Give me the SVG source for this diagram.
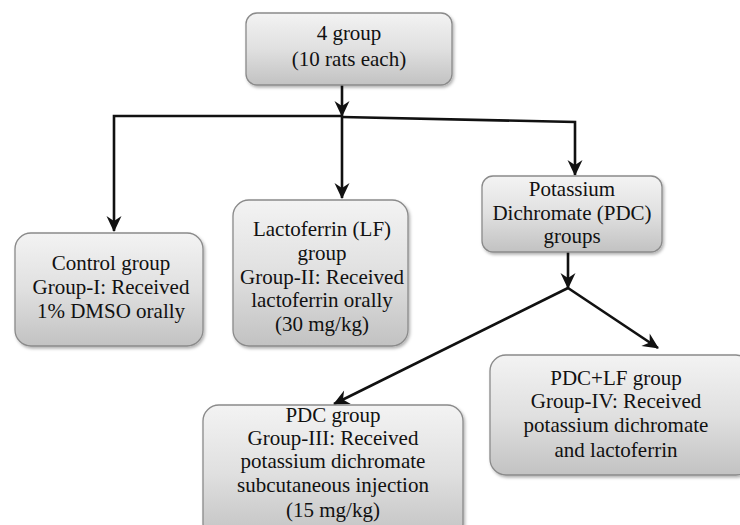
<svg xmlns="http://www.w3.org/2000/svg" width="740" height="525" viewBox="0 0 740 525">
  <defs>
    <linearGradient id="boxFill" x1="0" y1="0" x2="0" y2="1">
      <stop offset="0" stop-color="#f3f3f3"/>
      <stop offset="0.5" stop-color="#e0e0e0"/>
      <stop offset="1" stop-color="#c2c2c2"/>
    </linearGradient>
    <filter id="shadow" x="-10%" y="-10%" width="125%" height="130%">
      <feDropShadow dx="1.5" dy="2" stdDeviation="1.5" flood-color="#000" flood-opacity="0.3"/>
    </filter>
    <marker id="arrow" markerUnits="userSpaceOnUse" markerWidth="18" markerHeight="18" viewBox="0 0 18 18" refX="16" refY="9" orient="auto">
      <path d="M1,1.5 L17,9 L1,16.5 L6,9 z" fill="#111"/>
    </marker>
    <style>
      .box { fill: url(#boxFill); stroke: #8a8a8a; stroke-width: 1.3; filter: url(#shadow); }
      .lbl { font-family: 'Liberation Serif', 'Times New Roman', serif; font-size: 21px; fill: #111; text-anchor: middle; }
      .conn { fill: none; stroke: #111; stroke-width: 2.6; }
    </style>
  </defs>

  <g id="connectors">
    <path class="conn" d="M342,85 V116" marker-end="url(#arrow)"/>
    <path class="conn" d="M342,116 V198" marker-end="url(#arrow)"/>
    <path class="conn" d="M342,116 L114,116 V231" marker-end="url(#arrow)"/>
    <path class="conn" d="M342,117 L575,122 V175" marker-end="url(#arrow)"/>
    <path class="conn" d="M568,252 V288" marker-end="url(#arrow)"/>
    <path class="conn" d="M568,288 L334,404" marker-end="url(#arrow)"/>
    <path class="conn" d="M568,288 L658,348" marker-end="url(#arrow)"/>
  </g>

  <g id="node-top">
    <rect class="box" x="246" y="13" width="206" height="72" rx="11"/>
    <text class="lbl" x="349" y="40">4 group</text>
    <text class="lbl" x="349" y="66">(10 rats each)</text>
  </g>

  <g id="node-control">
    <rect class="box" x="15" y="233" width="188" height="113" rx="16"/>
    <text class="lbl" x="111" y="270">Control group</text>
    <text class="lbl" x="111" y="294">Group-I: Received</text>
    <text class="lbl" x="111" y="318">1% DMSO orally</text>
  </g>

  <g id="node-lactoferrin">
    <rect class="box" x="233" y="200" width="175" height="146" rx="16"/>
    <text class="lbl" x="322" y="236">Lactoferrin (LF)</text>
    <text class="lbl" x="322" y="260">group</text>
    <text class="lbl" x="322" y="284">Group-II: Received</text>
    <text class="lbl" x="322" y="307">lactoferrin orally</text>
    <text class="lbl" x="322" y="331">(30 mg/kg)</text>
  </g>

  <g id="node-pdc-groups">
    <rect class="box" x="482" y="176" width="180" height="76" rx="11"/>
    <text class="lbl" x="572" y="196">Potassium</text>
    <text class="lbl" x="572" y="220">Dichromate (PDC)</text>
    <text class="lbl" x="572" y="243">groups</text>
  </g>

  <g id="node-pdc">
    <rect class="box" x="203" y="405" width="260" height="135" rx="16"/>
    <text class="lbl" x="333" y="422">PDC group</text>
    <text class="lbl" x="333" y="445">Group-III: Received</text>
    <text class="lbl" x="333" y="468">potassium dichromate</text>
    <text class="lbl" x="333" y="492">subcutaneous injection</text>
    <text class="lbl" x="333" y="517">(15 mg/kg)</text>
  </g>

  <g id="node-pdc-lf">
    <rect class="box" x="490" y="355" width="262" height="120" rx="16"/>
    <text class="lbl" x="616" y="385">PDC+LF group</text>
    <text class="lbl" x="616" y="408">Group-IV: Received</text>
    <text class="lbl" x="616" y="432">potassium dichromate</text>
    <text class="lbl" x="616" y="457">and lactoferrin</text>
  </g>
</svg>
